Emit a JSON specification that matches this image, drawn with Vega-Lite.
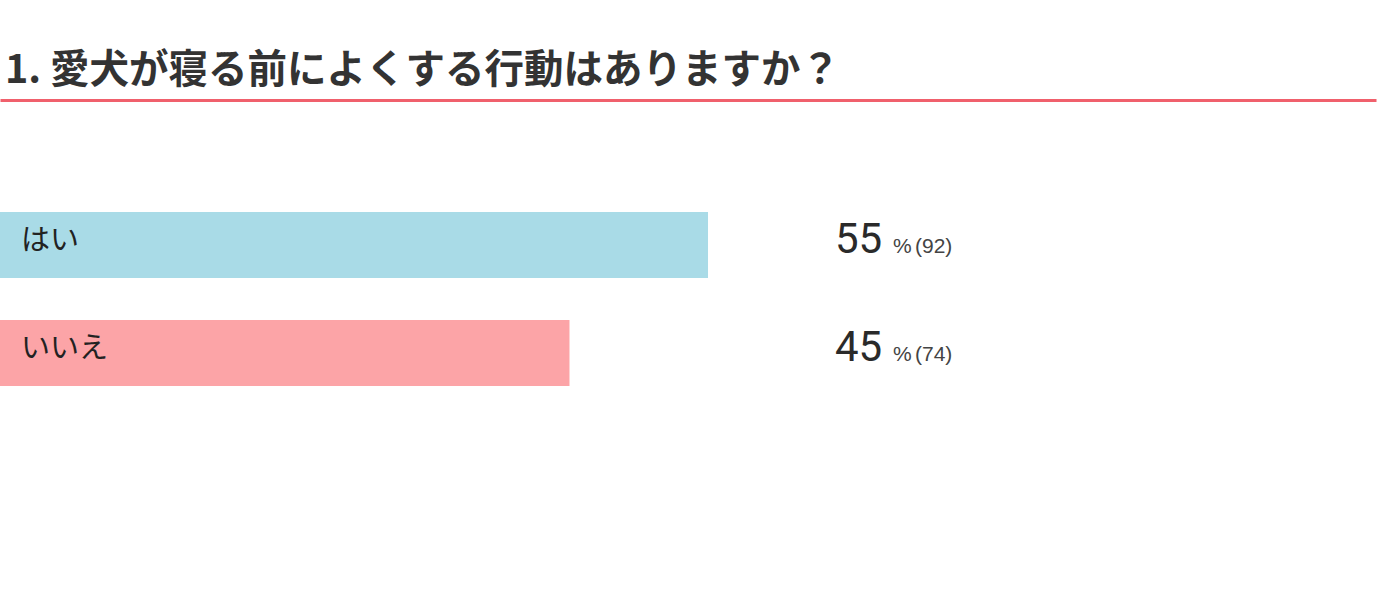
{
  "$schema": "https://vega.github.io/schema/vega-lite/v6.json",
  "autosize": {"type": "none"},
  "width": 1376,
  "height": 390,
  "padding": {"left": 0, "top": 104, "right": 20, "bottom": 100},
  "background": "white",
  "config": {"view": {"stroke": null}},
  "title": {
    "text": "1. 愛犬が寝る前によくする行動はありますか？",
    "anchor": "start",
    "font": "Noto Sans CJK JP",
    "fontSize": 39.5,
    "fontWeight": "bold",
    "color": "#333333",
    "offset": 9,
    "dx": 5
  },
  "data": {
    "values": [
      {"answer": "はい", "pct": 55, "count": 92, "countLabel": "(92)"},
      {"answer": "いいえ", "pct": 45, "count": 74, "countLabel": "(74)"}
    ]
  },
  "encoding": {
    "y": {
      "field": "answer",
      "type": "nominal",
      "sort": ["はい", "いいえ"],
      "scale": {"paddingInner": 0.389, "paddingOuter": 1},
      "axis": null
    }
  },
  "layer": [
    {
      "mark": {"type": "bar"},
      "encoding": {
        "x": {
          "field": "count",
          "type": "quantitative",
          "scale": {"domain": [0, 178.8], "nice": false},
          "axis": {
            "orient": "top",
            "offset": 4,
            "domainColor": "#f0606c",
            "domainWidth": 3,
            "ticks": false,
            "labels": false,
            "grid": false,
            "title": null
          }
        },
        "color": {
          "field": "answer",
          "type": "nominal",
          "scale": {"domain": ["はい", "いいえ"], "range": ["#a9dbe7", "#fca4a7"]},
          "legend": null
        }
      }
    },
    {
      "mark": {"type": "text", "align": "left", "baseline": "middle", "dx": 21, "dy": -4, "font": "Noto Sans CJK JP", "fontSize": 29, "color": "#222222"},
      "encoding": {
        "x": {"datum": 0, "type": "quantitative"},
        "text": {"field": "answer"}
      }
    },
    {
      "mark": {"type": "text", "align": "left", "baseline": "alphabetic", "dy": 8, "font": "Roboto", "fontWeight": "normal", "fontSize": 42, "color": "#2a2a2a"},
      "encoding": {
        "x": {"datum": 108.5, "type": "quantitative"},
        "text": {"field": "pct"}
      }
    },
    {
      "mark": {"type": "text", "align": "left", "baseline": "alphabetic", "dy": 8, "dx": 58, "font": "Liberation Sans", "fontSize": 21, "color": "#444444"},
      "encoding": {
        "x": {"datum": 108.5, "type": "quantitative"},
        "text": {"value": "%"}
      }
    },
    {
      "mark": {"type": "text", "align": "left", "baseline": "alphabetic", "dy": 8, "dx": 80, "font": "Liberation Sans", "fontSize": 21, "color": "#444444"},
      "encoding": {
        "x": {"datum": 108.5, "type": "quantitative"},
        "text": {"field": "countLabel"}
      }
    }
  ]
}
